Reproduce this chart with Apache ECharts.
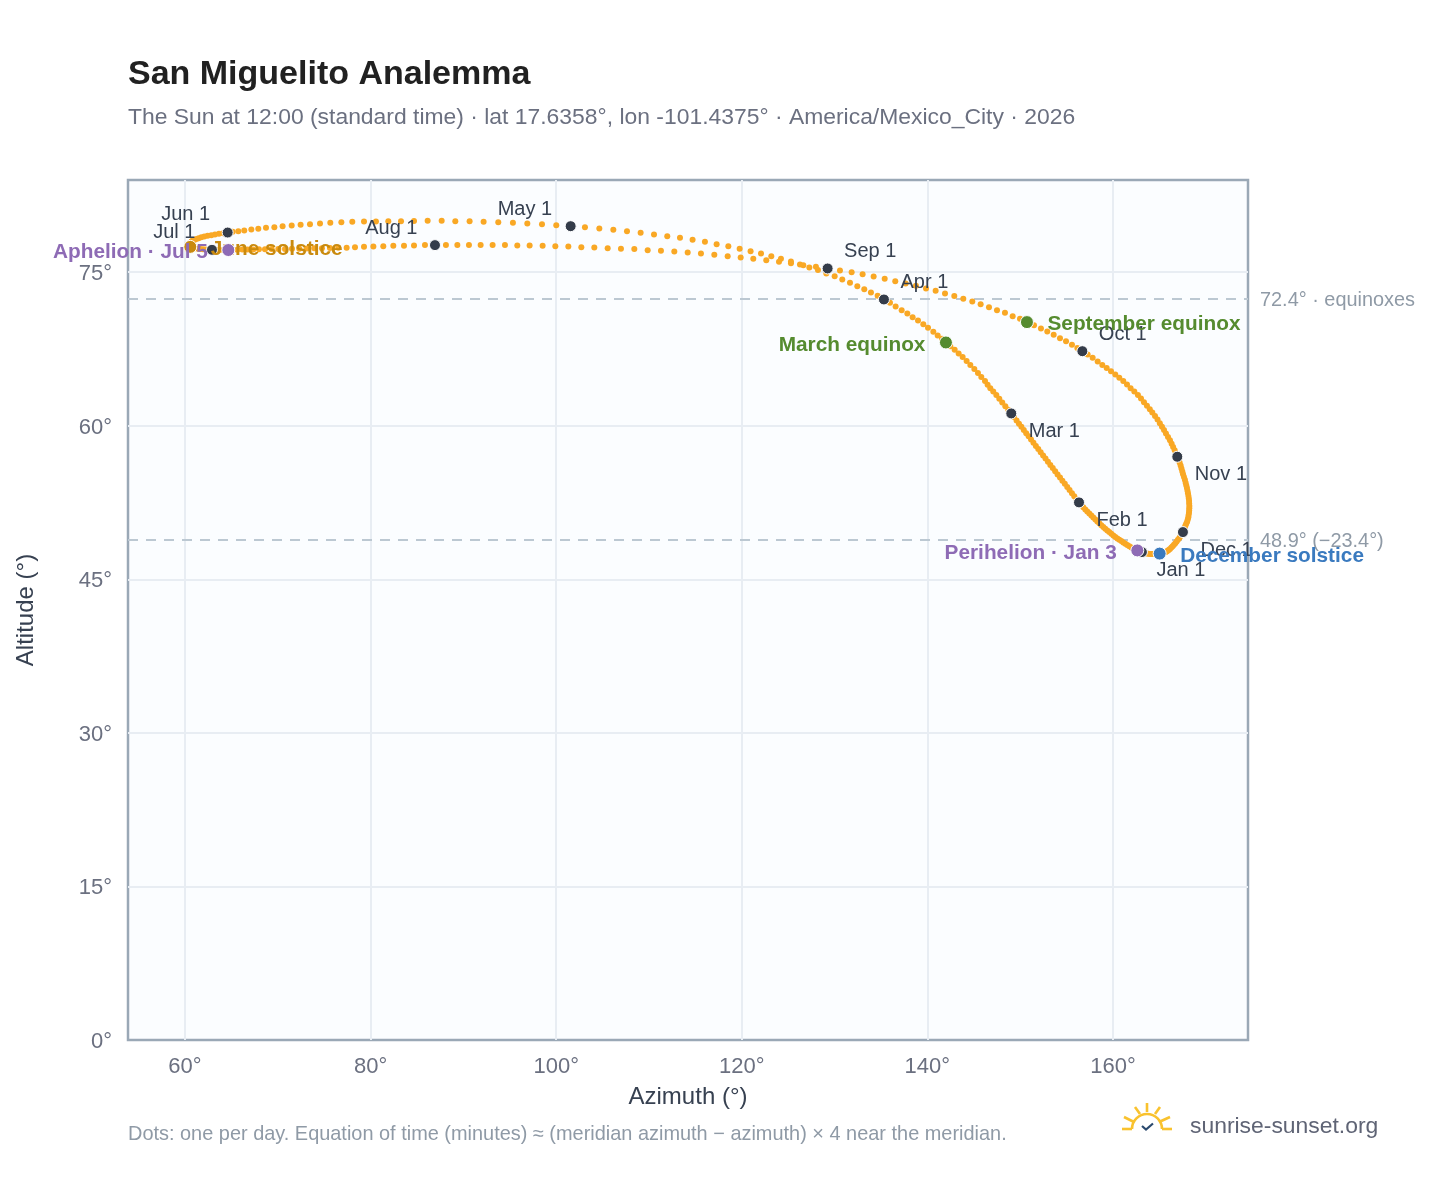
<!DOCTYPE html>
<html><head><meta charset="utf-8">
<style>html,body{margin:0;padding:0;background:#fff}#c{width:1448px;height:1188px}</style>
<script src="https://cdn.jsdelivr.net/npm/echarts@6/dist/echarts.min.js"></script>
</head><body><div id="c"></div>
<script>
const monthNames=['Jan','Feb','Mar','Apr','May','Jun','Jul','Aug','Sep','Oct','Nov','Dec'];
const azJan=[163.12,162.87,162.62,162.41,162.19,161.98,161.76,161.54,161.33,161.11,160.90,160.68,160.47,160.25,160.04,159.82,159.60,159.39,159.17,158.96,158.74,158.53,158.31,158.10,157.88,157.67,157.45,157.23,157.02,156.80,156.59];
const altJan=[47.66,47.72,47.82,47.92,48.01,48.11,48.23,48.34,48.47,48.60,48.73,48.86,48.99,49.12,49.28,49.45,49.61,49.77,49.93,50.11,50.29,50.47,50.65,50.85,51.04,51.24,51.43,51.63,51.82,52.03,52.26];
const azFeb=[156.34,156.09,155.83,155.58,155.32,155.07,154.81,154.55,154.29,154.03,153.77,153.51,153.25,152.99,152.73,152.47,152.21,151.95,151.69,151.43,151.17,150.91,150.65,150.39,150.13,149.87,149.61,149.33];
const altFeb=[52.51,52.80,53.10,53.40,53.71,54.01,54.32,54.62,54.93,55.24,55.55,55.86,56.17,56.48,56.79,57.10,57.41,57.72,58.03,58.34,58.65,58.96,59.27,59.58,59.89,60.20,60.51,60.85];
const azMar=[149.04,148.72,148.40,148.07,147.75,147.43,147.10,146.78,146.49,146.21,145.81,145.45,145.06,144.63,144.23,143.80,143.37,142.94,142.47,142.00,141.57,141.11,140.64,140.07,139.56,138.99,138.41,137.84,137.23,136.58,135.97];
const altMar=[61.20,61.56,61.91,62.27,62.63,62.99,63.35,63.67,64.00,64.36,64.75,65.14,65.53,65.92,66.31,66.70,67.06,67.42,67.77,68.13,68.49,68.81,69.17,69.56,69.92,70.28,70.60,70.96,71.29,71.65,72.00];
const azApr=[135.32,134.64,133.92,133.20,132.45,131.66,130.83,130.01,129.11,128.21,127.28,126.27,125.30,124.22,123.18,122.07,120.95,119.77,118.55,117.29,116.03,114.70,113.34,111.97,110.54,109.10,107.63,106.16,104.65,103.10];
const altApr=[72.33,72.69,73.01,73.34,73.63,73.96,74.28,74.61,74.87,75.20,75.46,75.75,76.04,76.30,76.56,76.82,77.05,77.28,77.54,77.73,77.96,78.16,78.35,78.50,78.68,78.84,79.00,79.13,79.26,79.39];
const azMay=[101.56,100.01,98.47,96.89,95.34,93.76,92.18,90.67,89.13,87.66,86.15,84.68,83.28,81.91,80.58,79.29,78.03,76.85,75.66,74.55,73.47,72.46,71.50,70.52,69.63,68.73,67.90,67.15,66.39,65.75,65.14];
const altMay=[79.49,79.59,79.69,79.75,79.82,79.88,79.91,79.98,79.98,80.01,80.01,79.99,79.98,79.96,79.95,79.95,79.91,79.88,79.82,79.75,79.69,79.62,79.56,79.49,79.39,79.33,79.23,79.17,79.07,79.00,78.94];
const azJun=[64.60,64.13,63.66,63.23,62.84,62.44,62.08,61.76,61.47,61.22,61.00,60.83,60.72,60.68,60.61,60.57,60.54,60.52,60.52,60.54,60.57,60.61,60.75,60.93,61.15,61.40,61.65,61.94,62.23,62.55];
const altJun=[78.87,78.81,78.74,78.68,78.61,78.55,78.48,78.40,78.32,78.24,78.15,78.08,77.99,77.95,77.90,77.81,77.75,77.69,77.62,77.54,77.47,77.44,77.41,77.38,77.33,77.29,77.26,77.23,77.21,77.20];
const azJul=[62.91,63.23,63.66,64.13,64.67,65.10,65.64,66.18,66.75,67.36,67.97,68.62,69.34,70.06,70.78,71.53,72.32,73.11,73.94,74.76,75.62,76.52,77.42,78.32,79.29,80.30,81.37,82.45,83.60,84.68,85.86];
const altJul=[77.18,77.17,77.16,77.16,77.16,77.18,77.18,77.20,77.21,77.21,77.23,77.23,77.25,77.25,77.26,77.28,77.29,77.31,77.33,77.34,77.36,77.38,77.39,77.44,77.47,77.51,77.54,77.57,77.57,77.60,77.64];
const azAug=[86.94,88.12,89.35,90.60,91.86,93.15,94.48,95.81,97.14,98.54,99.91,101.31,102.71,104.11,105.55,106.98,108.42,109.86,111.29,112.73,114.17,115.60,117.04,118.48,119.88,121.24,122.64,124.01,125.30,126.63,127.99];
const altAug=[77.64,77.64,77.64,77.64,77.64,77.64,77.64,77.60,77.60,77.57,77.54,77.51,77.44,77.41,77.34,77.28,77.25,77.15,77.08,77.02,76.92,76.82,76.69,76.56,76.43,76.30,76.17,76.01,75.88,75.68,75.52];
const azSep=[129.25,130.58,131.84,133.02,134.21,135.40,136.54,137.66,138.77,139.85,140.89,141.90,142.90,143.87,144.84,145.74,146.64,147.50,148.36,149.19,149.98,150.73,151.49,152.24,152.92,153.61,154.29,154.94,155.58,156.16];
const altSep=[75.36,75.16,75.00,74.80,74.58,74.35,74.12,73.89,73.67,73.40,73.18,72.92,72.66,72.40,72.13,71.87,71.58,71.29,71.03,70.70,70.44,70.12,69.82,69.50,69.20,68.88,68.55,68.26,67.90,67.58];
const azOct=[156.70,157.27,157.81,158.35,158.85,159.32,159.79,160.25,160.68,161.11,161.51,161.90,162.30,162.69,163.02,163.34,163.66,163.97,164.24,164.53,164.80,165.05,165.28,165.50,165.71,165.93,166.14,166.32,166.48,166.65,166.79];
const altOct=[67.28,66.96,66.63,66.28,65.92,65.63,65.33,65.01,64.68,64.36,64.03,63.67,63.35,62.99,62.65,62.30,61.96,61.62,61.28,60.94,60.60,60.25,59.91,59.57,59.23,58.90,58.58,58.25,57.93,57.60,57.28];
const azNov=[166.93,167.11,167.18,167.29,167.38,167.47,167.55,167.65,167.75,167.83,167.90,167.97,168.03,168.08,168.13,168.17,168.20,168.21,168.23,168.22,168.21,168.19,168.15,168.12,168.06,167.99,167.89,167.80,167.71,167.63];
const altNov=[56.97,56.70,56.40,56.11,55.82,55.54,55.26,54.98,54.71,54.44,54.17,53.91,53.65,53.40,53.14,52.90,52.65,52.41,52.17,51.94,51.72,51.49,51.27,51.05,50.84,50.63,50.42,50.22,50.02,49.82];
const azDec=[167.54,167.40,167.29,167.15,167.00,166.86,166.72,166.57,166.43,166.29,166.14,166.00,165.89,165.78,165.68,165.57,165.46,165.35,165.24,165.14,165.03,164.90,164.78,164.63,164.49,164.35,164.17,163.99,163.81,163.63,163.38];
const altDec=[49.61,49.41,49.22,49.04,48.86,48.68,48.52,48.37,48.23,48.10,47.97,47.87,47.79,47.72,47.67,47.62,47.59,47.56,47.54,47.53,47.51,47.49,47.48,47.46,47.46,47.46,47.46,47.48,47.49,47.53,47.59];
const azByMonth=[azJan,azFeb,azMar,azApr,azMay,azJun,azJul,azAug,azSep,azOct,azNov,azDec];
const altByMonth=[altJan,altFeb,altMar,altApr,altMay,altJun,altJul,altAug,altSep,altOct,altNov,altDec];
const eventNames=['March equinox','June solstice','September equinox','December solstice','Perihelion · Jan 3','Aphelion · Jul 5'];
const eventMonth=[2,5,8,11,0,6];
const eventDay=[20,21,22,21,3,5];
const refAltitudes=[72.4,48.9];
const refLabels=['72.4° · equinoxes','48.9° (−23.4°)'];
const xTicks=[60,80,100,120,140,160];
const yTicks=[0,15,30,45,60,75];

const font='"Liberation Sans", Arial, sans-serif';
const eventColors=['#558b2f','#c98a0e','#558b2f','#3a7abf','#8e6bb5','#8e6bb5'];
const eventSide=[-1,1,1,1,-1,-1];
const monthOffset=[[14,18],[17,18],[17,18],[16,-17],[-18,-17],[-17,-18],[-16,-17],[-17,-17],[16,-17],[16,-17],[17,18],[17,18]];
const monthAlign=monthOffset.map(o=>o[0]<0?'right':'left');

const daily=[];
azByMonth.forEach((arr,m)=>arr.forEach((az,d)=>daily.push([az,altByMonth[m][d]])));
const monthPoints=azByMonth.map((arr,m)=>[arr[0],altByMonth[m][0]]);

const series=[{
  type:'scatter',data:[],z:1,silent:true,
  markLine:{silent:true,symbol:'none',z:1,animation:false,
    lineStyle:{color:'#bcc8d2',type:[10,8],width:2,opacity:1},
    data:refAltitudes.map((v,i)=>({yAxis:v,
      label:{show:true,position:'end',distance:12,formatter:refLabels[i],color:'#8f9aa6',fontFamily:font,fontSize:19.9,offset:[0,2]}}))}
},{
  type:'scatter',name:'Daily',data:daily,symbol:'circle',symbolSize:6,z:2,silent:true,clip:false,
  itemStyle:{color:'#f9a825',opacity:1}
},{
  type:'scatter',name:'Months',z:3,silent:true,clip:false,symbol:'circle',symbolSize:11,
  itemStyle:{color:'#343c4a',borderColor:'#fff',borderWidth:1,opacity:1},
  data:monthPoints.map((p,i)=>({value:p,label:{
    show:true,formatter:monthNames[i]+' 1',position:monthAlign[i]==='left'?'right':'left',distance:0,
    offset:[monthOffset[i][0]+(monthAlign[i]==='left'?-5.5:5.5),monthOffset[i][1]],
    color:'#374151',fontFamily:font,fontSize:20}}))
}];
eventNames.forEach((name,i)=>{
  const m=eventMonth[i],d=eventDay[i]-1;
  series.push({type:'scatter',name,z:4+i,silent:true,clip:false,symbol:'circle',symbolSize:13,
    itemStyle:{color:eventColors[i],borderColor:'#fff',borderWidth:1,opacity:1},
    data:[{value:[azByMonth[m][d],altByMonth[m][d]],label:{show:true,formatter:name,
      position:eventSide[i]>0?'right':'left',distance:13.5,offset:[0,2.5],
      color:eventColors[i],fontFamily:font,fontSize:20.8,fontWeight:'bold'}}]});
});

const chart=echarts.init(document.getElementById('c'),null,{renderer:'canvas'});
const t=(text,left,top,size,color,weight)=>({text,left,top,textStyle:{fontFamily:font,fontSize:size,color,fontWeight:weight||'normal'},padding:0});
chart.setOption({
  animation:false,backgroundColor:'#fff',
  title:[
    t('San Miguelito Analemma',128,58,34,'#212121','bold'),
    t('The Sun at 12:00 (standard time) · lat 17.6358°, lon -101.4375° · America/Mexico_City · 2026',128,106,22.9,'#6b7080'),
    t('Dots: one per day. Equation of time (minutes) ≈ (meridian azimuth − azimuth) × 4 near the meridian.',128,1125,19.93,'#8f9aa6'),
    t('sunrise-sunset.org',1190,1115,22.9,'#5f6475')
  ],
  grid:{left:128,right:200,top:180,bottom:148,show:true,backgroundColor:'#fbfdff',borderColor:'#9aa8b6',borderWidth:2.5},
  xAxis:{type:'value',min:53.86,max:174.55,splitNumber:6,name:'Azimuth (°)',nameLocation:'middle',nameGap:45,
    nameTextStyle:{fontFamily:font,fontSize:24,color:'#374151'},
    axisLine:{show:false},axisTick:{show:false},
    axisLabel:{fontFamily:font,fontSize:22,color:'#6b7080',margin:16,showMinLabel:true,showMaxLabel:true,
      formatter:v=>xTicks.includes(v)?v+'°':''},
    splitLine:{show:true,showMinLine:false,showMaxLine:false,lineStyle:{color:'#e8edf3',width:2}}},
  yAxis:{type:'value',min:0,max:84,interval:15,name:'Altitude (°)',nameLocation:'middle',nameGap:90,
    nameTextStyle:{fontFamily:font,fontSize:24,color:'#374151'},
    axisLine:{show:false},axisTick:{show:false},
    axisLabel:{margin:16,showMinLabel:true,
      rich:{a:{fontFamily:font,fontSize:22,color:'#6b7080',padding:[4,0,0,0]}},
      formatter:v=>yTicks.includes(v)?'{a|'+v+'°}':''},
    splitLine:{show:true,showMinLine:false,showMaxLine:false,lineStyle:{color:'#e8edf3',width:2}}},
  graphic:[{type:'group',silent:true,children:[
    {type:'polyline',shape:{points:[[1122,1129],[1132,1129]]},style:{stroke:'#f9c22e',lineWidth:2.6,fill:null}},
    {type:'polyline',shape:{points:[[1162,1129],[1172,1129]]},style:{stroke:'#f9c22e',lineWidth:2.6,fill:null}},
    {type:'arc',shape:{cx:1147,cy:1129,r:15,startAngle:Math.PI,endAngle:2*Math.PI},style:{stroke:'#f9c22e',lineWidth:2.6,fill:null}},
    {type:'polyline',shape:{points:[[1147,1103],[1147,1112]]},style:{stroke:'#f9c22e',lineWidth:2.6,fill:null}},
    {type:'polyline',shape:{points:[[1135,1107],[1140,1114]]},style:{stroke:'#f9c22e',lineWidth:2.6,fill:null}},
    {type:'polyline',shape:{points:[[1160,1107],[1155,1114]]},style:{stroke:'#f9c22e',lineWidth:2.6,fill:null}},
    {type:'polyline',shape:{points:[[1124,1117],[1134,1122]]},style:{stroke:'#f9c22e',lineWidth:2.6,fill:null}},
    {type:'polyline',shape:{points:[[1170,1117],[1159,1122]]},style:{stroke:'#f9c22e',lineWidth:2.6,fill:null}},
    {type:'polyline',shape:{points:[[1142,1126],[1146,1129.5],[1153,1123.5]]},style:{stroke:'#2b4a6f',lineWidth:2.2,fill:null}}
  ]}],
  series
});
</script></body></html>
